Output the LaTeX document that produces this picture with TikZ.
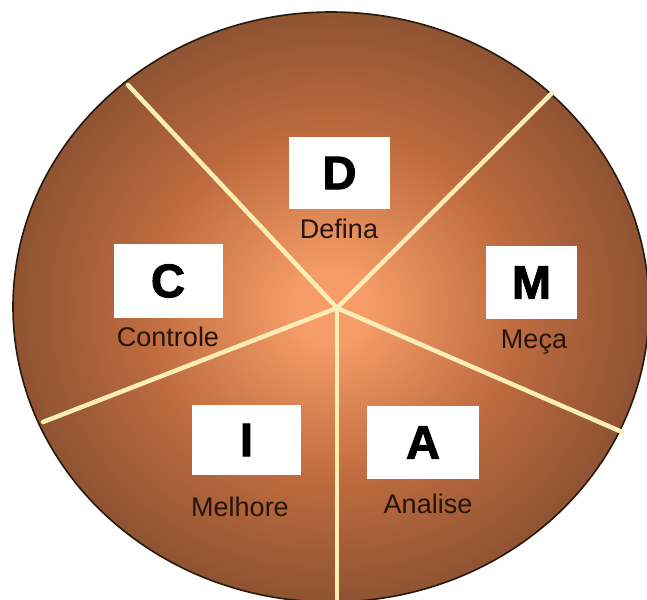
\documentclass[tikz,border=0pt]{standalone}
\usepackage{fontspec}
\setmainfont{Liberation Sans}
\newfontfamily\heavyfont[FakeBold=2.2]{Liberation Sans Bold}
\definecolor{cin}{HTML}{F59C68}
\definecolor{cmid}{HTML}{BC6A3E}
\definecolor{cout}{HTML}{7C4A2D}
\definecolor{linec}{HTML}{FAEEB4}
\definecolor{labc}{HTML}{24140A}
\pgfdeclareradialshading{dmaicshade}{\pgfpoint{0bp}{0bp}}{color(0bp)=(cin); color(3bp)=(cin); color(15bp)=(cmid); color(29bp)=(cout); color(50bp)=(cout)}
\tikzset{
  letterbox/.style={fill=white, draw=none, inner sep=0pt, font=\fontsize{47}{47}\heavyfont, text=black},
  lbl/.style={anchor=base, inner sep=0pt, font=\fontsize{27}{27}\selectfont, text=labc},
  divider/.style={draw=linec, line width=4.5pt, line cap=round}
}
\begin{document}
\begin{tikzpicture}[x=1pt, y=-1pt]
\useasboundingbox (0,0) rectangle (647,599);
\fill[white] (0,0) rectangle (647,599);
% disc
\shade[shading=dmaicshade] (331,307) ellipse [x radius=318, y radius=295];
\draw[black!80!brown, line width=1.6pt] (331,307) ellipse [x radius=318, y radius=295];
% dividers
\coordinate (j) at (337,308);
\coordinate (e1) at (128,85);
\coordinate (e2) at (552,93);
\coordinate (e3) at (622,432);
\coordinate (e4) at (337,602);
\coordinate (e5) at (43,422);
\draw[divider] (j) -- (e1);
\draw[divider] (j) -- (e2);
\draw[divider] (j) -- (e3);
\draw[divider, line cap=butt] (j) -- (e4);
\draw[divider] (j) -- (e5);
% boxes
\node[letterbox, minimum width=101pt, minimum height=72pt] (D) at (339.5,173) {D};
\node[letterbox, minimum width=109pt, minimum height=74pt] (C) at (168,281) {C};
\node[letterbox, minimum width=91pt, minimum height=73pt] (M) at (531.5,282.5) {M};
\node[letterbox, minimum width=109pt, minimum height=70pt] (I) at (246.5,440) {I};
\node[letterbox, minimum width=112pt, minimum height=73pt] (A) at (423,442.5) {A};
% labels
\node[lbl] (lD) at (339,238) {Defina};
\node[lbl] (lC) at (168,346) {Controle};
\node[lbl] (lM) at (534,348) {Meça};
\node[lbl] (lI) at (240,516) {Melhore};
\node[lbl] (lA) at (428,513) {Analise};
\end{tikzpicture}
\end{document}
